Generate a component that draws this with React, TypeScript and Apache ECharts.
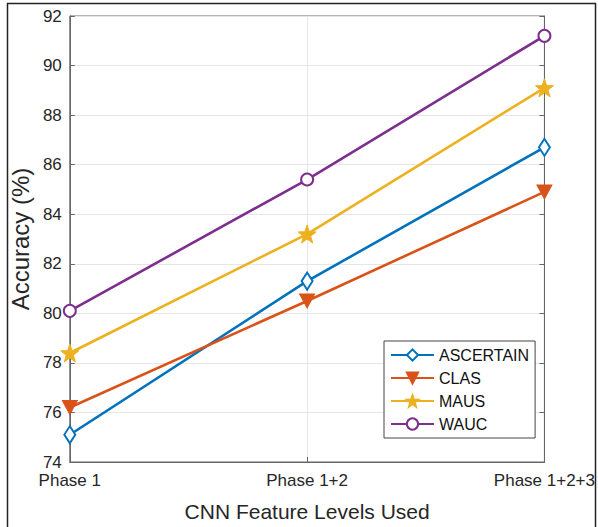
import React, { useEffect, useRef } from "react";
import * as echarts from "echarts";

const categories = ["Phase 1", "Phase 1+2", "Phase 1+2+3"];
const ascertain = [75.1, 81.3, 86.7];
const clas = [76.2, 80.5, 84.9];
const maus = [78.4, 83.2, 89.1];
const wauc = [80.1, 85.4, 91.2];
const seriesNames = ["ASCERTAIN", "CLAS", "MAUS", "WAUC"];
const yMin = 74;
const yMax = 92;
const yStep = 2;

const FONT = "'Liberation Sans', Arial, Helvetica, sans-serif";
const TXT = "#262626";
const STAR =
  "path://M0,-10 L2.35,-3.24 L9.51,-3.09 L3.8,1.24 L5.88,8.09 L0,4 L-5.88,8.09 L-3.8,1.24 L-9.51,-3.09 L-2.35,-3.24 Z";
const TRI_DOWN = "path://M0,0 L10,0 L5,9 Z";

export default function App() {
  const ref = useRef<HTMLDivElement>(null);
  useEffect(() => {
    if (!ref.current) return;
    const chart = echarts.init(ref.current, null, { renderer: "svg" });
    const mk = (
      name: string,
      data: number[],
      color: string,
      symbol: string,
      size: number | number[],
      filled: boolean
    ) => ({
      name,
      type: "line",
      data,
      symbol,
      symbolSize: size,
      showAllSymbol: true,
      lineStyle: { color, width: 2.6 },
      itemStyle: filled
        ? { color, borderColor: color, borderWidth: 1 }
        : { color, borderColor: color, borderWidth: 2.4 },
      z: 3,
    });
    chart.setOption({
      animation: false,
      backgroundColor: "#fff",
      textStyle: { fontFamily: FONT },
      graphic: [
        {
          type: "polyline",
          shape: {
            points: [
              [7.5, 530],
              [7.5, 3.5],
              [595.5, 3.5],
              [595.5, 530],
            ],
          },
          style: { stroke: "#222", lineWidth: 1.5, fill: "none" },
          silent: true,
        },
      ],
      grid: {
        left: 62,
        top: 16,
        right: 53,
        bottom: 65,
        show: true,
        borderColor: "#666",
        borderWidth: 1,
        backgroundColor: "#fff",
      },
      legend: {
        orient: "vertical",
        left: 384,
        top: 341,
        data: seriesNames,
        itemWidth: 43,
        itemHeight: 14,
        itemGap: 7,
        padding: [6, 6, 6, 6],
        backgroundColor: "#fff",
        borderColor: "#444",
        borderWidth: 1,
        borderRadius: 0,
        textStyle: { fontSize: 16, color: "#111", fontFamily: FONT },
      },
      xAxis: {
        type: "category",
        data: categories,
        boundaryGap: false,
        name: "CNN Feature Levels Used",
        nameLocation: "middle",
        nameGap: 39,
        nameTextStyle: { fontSize: 21, color: TXT, fontFamily: FONT },
        axisLine: { lineStyle: { color: "#666", width: 1 } },
        axisTick: { inside: true, length: 5, lineStyle: { color: "#666" } },
        axisLabel: { fontSize: 17, color: TXT, margin: 10, fontFamily: FONT },
        splitLine: { show: true, lineStyle: { color: "#e6e6e6", width: 1 } },
      },
      yAxis: [
        {
          type: "value",
          min: yMin,
          max: yMax,
          interval: yStep,
          name: "Accuracy (%)",
          nameLocation: "middle",
          nameGap: 36,
          nameTextStyle: { fontSize: 24, color: TXT, fontFamily: FONT },
          axisLine: { show: true, lineStyle: { color: "#666", width: 1 } },
          axisTick: { show: true, inside: true, length: 5, lineStyle: { color: "#666" } },
          axisLabel: { fontSize: 17, color: TXT, margin: 8, fontFamily: FONT },
          splitLine: { show: true, lineStyle: { color: "#e6e6e6", width: 1 } },
        },
        {
          type: "value",
          min: yMin,
          max: yMax,
          interval: yStep,
          position: "right",
          axisLine: { show: true, lineStyle: { color: "#666", width: 1 } },
          axisTick: { show: true, inside: true, length: 5, lineStyle: { color: "#666" } },
          axisLabel: { show: false },
          splitLine: { show: false },
        },
      ],
      series: [
        mk(seriesNames[0], ascertain, "#0072BD", "emptyDiamond", [11, 17], false),
        mk(seriesNames[1], clas, "#D95319", TRI_DOWN, [15, 14], true),
        mk(seriesNames[2], maus, "#EDB120", STAR, [18, 18], true),
        mk(seriesNames[3], wauc, "#7E2F8E", "emptyCircle", 12, false),
      ],
    });
    return () => chart.dispose();
  }, []);
  return (
    <div
      ref={ref}
      style={{ position: "absolute", left: 0, top: 0, width: 598, height: 527 }}
    />
  );
}
